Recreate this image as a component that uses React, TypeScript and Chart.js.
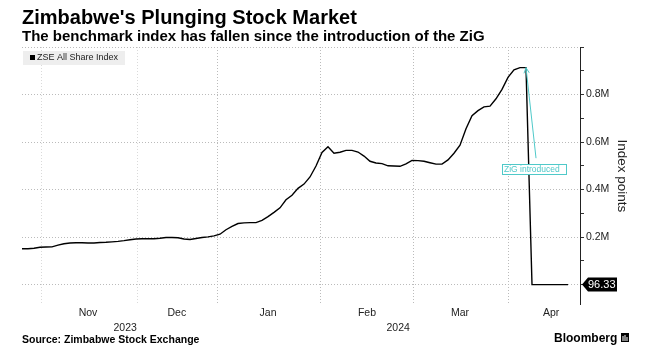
import React, { useEffect, useRef } from 'react';
import { Chart, registerables } from 'chart.js';

Chart.register(...registerables);

const titleText = "Zimbabwe's Plunging Stock Market";
const subtitleText = 'The benchmark index has fallen since the introduction of the ZiG';
const sourceText = 'Source: Zimbabwe Stock Exchange';
const brandText = 'Bloomberg';
const seriesName = 'ZSE All Share Index';
const yAxisTitle = 'Index points';
const annotationText = 'ZiG introduced';

// ZSE All Share Index, sampled along the session axis
const indexValues: number[] = [
  151000, 151000, 153000, 157000, 158000, 159000, 166000, 172000, 175000, 176000,
  176000, 175000, 175000, 177000, 178000, 180000, 182000, 185000, 189000, 192000,
  193000, 193000, 193000, 195000, 198000, 198000, 197000, 192000, 190000, 194000,
  198000, 201000, 205000, 212000, 231000, 245000, 257000, 260000, 261000, 261000,
  270000, 286000, 304000, 323000, 357000, 376000, 405000, 423000, 453000, 499000,
  556000, 580000, 553000, 557000, 565000, 565000, 558000, 541000, 519000, 512000,
  509000, 500000, 499000, 498000, 508000, 523000, 522000, 519000, 513000, 507000,
  507000, 525000, 553000, 587000, 656000, 711000, 732000, 748000, 751000, 782000,
  822000, 872000, 904000, 913000, 913000, 96.33, 96.33, 96.33, 96.33, 96.33,
  96.33, 96.33,
];

const sessionMin = 0;
const sessionMax = 93;
const monthLabels = ['Nov', 'Dec', 'Jan', 'Feb', 'Mar', 'Apr'];
const monthSessions = [11, 25.8, 41, 57.5, 73, 88.2];
const monthStartSessions = [3.3, 19.2, 32.5, 49.7, 65.2, 81];
const yearLabels = ['2023', '2024'];
const yearSessions = [17.2, 62.7];
const yTickValues = [0, 100000, 200000, 300000, 400000, 500000, 600000, 700000, 800000, 900000, 1000000];
const yLabelledTicks = [200000, 400000, 600000, 800000];
const yMin = -85000;
const yMax = 1000000;

// annotation anchors (session, value)
const zigSession = 84;
const zigLineEnd = { session: 85.67, value: 532000 };
const zigLabelAt = { session: 85.33, value: 486000 };

const FONT = "'Liberation Sans', Arial, sans-serif";
const TEAL = '#4fc9c9';
const TEXT = '#222';

const decorPlugin = {
  id: 'decor',
  afterDraw(chart: any) {
    const { ctx, chartArea, scales } = chart;
    const xs = scales.x;
    const ys = scales.y;
    ctx.save();

    // titles
    ctx.textAlign = 'left';
    ctx.textBaseline = 'alphabetic';
    ctx.fillStyle = '#000';
    ctx.font = `bold 20px ${FONT}`;
    ctx.fillText(titleText, chartArea.left, 24);
    ctx.font = `bold 15px ${FONT}`;
    ctx.fillText(subtitleText, chartArea.left, 41);

    // legend
    ctx.fillStyle = '#eeeeee';
    ctx.fillRect(chartArea.left + 1, 51, 102, 14);
    ctx.fillStyle = '#000';
    ctx.fillRect(chartArea.left + 8, 55, 5, 5);
    ctx.font = `9px ${FONT}`;
    ctx.fillStyle = TEXT;
    ctx.textBaseline = 'middle';
    ctx.fillText(seriesName, chartArea.left + 15, 58);

    // source + brand
    ctx.textBaseline = 'alphabetic';
    ctx.font = `bold 10.5px ${FONT}`;
    ctx.fillStyle = '#000';
    ctx.fillText(sourceText, chartArea.left, 343);
    ctx.font = `bold 12px ${FONT}`;
    ctx.fillText(brandText, 554, 342);
    ctx.fillRect(621, 333, 8, 9);
    ctx.fillStyle = '#fff';
    ctx.fillRect(622.5, 336, 1, 5);
    ctx.fillRect(624.5, 335, 1, 6);
    ctx.fillRect(626.5, 337, 1, 4);

    // last value callout
    const last = indexValues[indexValues.length - 1];
    const py = ys.getPixelForValue(last);
    const tx = ys.left + 2;
    ctx.fillStyle = '#000';
    ctx.beginPath();
    ctx.moveTo(tx, py);
    ctx.lineTo(tx + 6, py - 7);
    ctx.lineTo(tx + 35, py - 7);
    ctx.lineTo(tx + 35, py + 7);
    ctx.lineTo(tx + 6, py + 7);
    ctx.closePath();
    ctx.fill();
    ctx.fillStyle = '#fff';
    ctx.font = `11px ${FONT}`;
    ctx.textBaseline = 'middle';
    ctx.fillText(last.toFixed(2), tx + 6, py + 0.5);

    // ZiG annotation
    const ax = xs.getPixelForValue(zigSession);
    const ay = ys.getPixelForValue(indexValues[zigSession]);
    const ex = xs.getPixelForValue(zigLineEnd.session);
    const ey = ys.getPixelForValue(zigLineEnd.value);
    ctx.strokeStyle = TEAL;
    ctx.lineWidth = 1;
    ctx.beginPath();
    ctx.moveTo(ex, ey);
    ctx.lineTo(ax, ay);
    ctx.stroke();
    const ang = Math.atan2(ay - ey, ax - ex);
    const ah = 6;
    ctx.beginPath();
    ctx.moveTo(ax - ah * Math.cos(ang - 0.45), ay - ah * Math.sin(ang - 0.45));
    ctx.lineTo(ax, ay);
    ctx.lineTo(ax - ah * Math.cos(ang + 0.45), ay - ah * Math.sin(ang + 0.45));
    ctx.stroke();

    const lx = xs.getPixelForValue(zigLabelAt.session);
    const ly = ys.getPixelForValue(zigLabelAt.value);
    ctx.font = `8.5px ${FONT}`;
    const w = 64;
    const h = 10;
    ctx.fillStyle = '#fff';
    ctx.fillRect(lx - w / 2, ly - h / 2, w, h);
    ctx.strokeRect(Math.round(lx - w / 2) + 0.5, Math.round(ly - h / 2) + 0.5, w, h);
    ctx.fillStyle = TEAL;
    ctx.textAlign = 'left';
    ctx.textBaseline = 'middle';
    ctx.fillText(annotationText, lx - w / 2 + 2, ly + 1);

    ctx.restore();
  },
};

export default function App() {
  const ref = useRef<HTMLCanvasElement | null>(null);

  useEffect(() => {
    document.body.style.margin = '0';
    const canvas = ref.current;
    if (!canvas) return;
    const tickFont = { family: FONT, size: 10.5 };
    const chart = new Chart(canvas, {
      type: 'line',
      data: {
        datasets: [
          {
            label: seriesName,
            data: indexValues.map((v, i) => ({ x: i, y: v })),
            borderColor: '#000',
            borderWidth: 1.4,
            pointRadius: 0,
            tension: 0,
            fill: false,
          },
        ],
      },
      options: {
        animation: false,
        responsive: true,
        maintainAspectRatio: false,
        devicePixelRatio: 1,
        layout: { padding: { left: 22, right: 0, top: 47, bottom: 29 } },
        plugins: {
          legend: { display: false },
          title: { display: false },
          tooltip: { enabled: false },
        },
        scales: {
          x: {
            type: 'linear',
            position: 'bottom',
            weight: 0,
            min: sessionMin,
            max: sessionMax,
            afterBuildTicks: (s: any) => {
              s.ticks = monthStartSessions.map((v) => ({ value: v }));
            },
            ticks: { display: false },
            grid: {
              drawTicks: false,
              lineWidth: 1,
              color: (c: any) => (c.index < 2 ? '#dadada' : '#bbbbbb'),
            },
            border: { display: false, dash: [1, 2] },
          },
          xMonth: {
            type: 'linear',
            axis: 'x',
            position: 'bottom',
            weight: 1,
            min: sessionMin,
            max: sessionMax,
            afterBuildTicks: (s: any) => {
              s.ticks = monthSessions.map((v) => ({ value: v }));
            },
            ticks: {
              autoSkip: false,
              maxRotation: 0,
              padding: 2,
              color: TEXT,
              font: tickFont,
              callback: (_v: any, i: number) => monthLabels[i],
            },
            grid: { display: false, drawTicks: false },
            border: { display: false },
          },
          xYear: {
            type: 'linear',
            axis: 'x',
            position: 'bottom',
            weight: 2,
            min: sessionMin,
            max: sessionMax,
            afterBuildTicks: (s: any) => {
              s.ticks = yearSessions.map((v) => ({ value: v }));
            },
            ticks: {
              autoSkip: false,
              maxRotation: 0,
              padding: 0,
              color: TEXT,
              font: tickFont,
              callback: (_v: any, i: number) => yearLabels[i],
            },
            grid: { display: false, drawTicks: false },
            border: { display: false },
          },
          y: {
            type: 'linear',
            position: 'right',
            min: yMin,
            max: yMax,
            afterBuildTicks: (s: any) => {
              s.ticks = yTickValues.map((v) => ({ value: v }));
            },
            afterFit: (s: any) => {
              s.width = 74;
            },
            ticks: {
              autoSkip: false,
              padding: 2,
              color: TEXT,
              font: tickFont,
              callback: (v: any) =>
                yLabelledTicks.includes(v) ? `${(v / 1000000).toFixed(1)}M` : '',
            },
            grid: {
              drawTicks: true,
              tickLength: 4,
              tickColor: '#333',
              tickWidth: 1,
              lineWidth: 1,
              color: (c: any) =>
                c.tick && c.tick.value % 200000 === 0 ? '#bbbbbb' : 'rgba(0,0,0,0)',
            },
            border: { display: true, color: '#222', width: 1, dash: [1, 2] },
            title: {
              display: true,
              text: yAxisTitle,
              color: TEXT,
              font: { family: FONT, size: 13.5 },
              padding: { top: 24, bottom: 0 },
            },
          },
        },
      },
      plugins: [decorPlugin],
    } as any);
    return () => chart.destroy();
  }, []);

  return (
    <div style={{ position: 'relative', width: '654px', height: '363px' }}>
      <canvas ref={ref} />
    </div>
  );
}
